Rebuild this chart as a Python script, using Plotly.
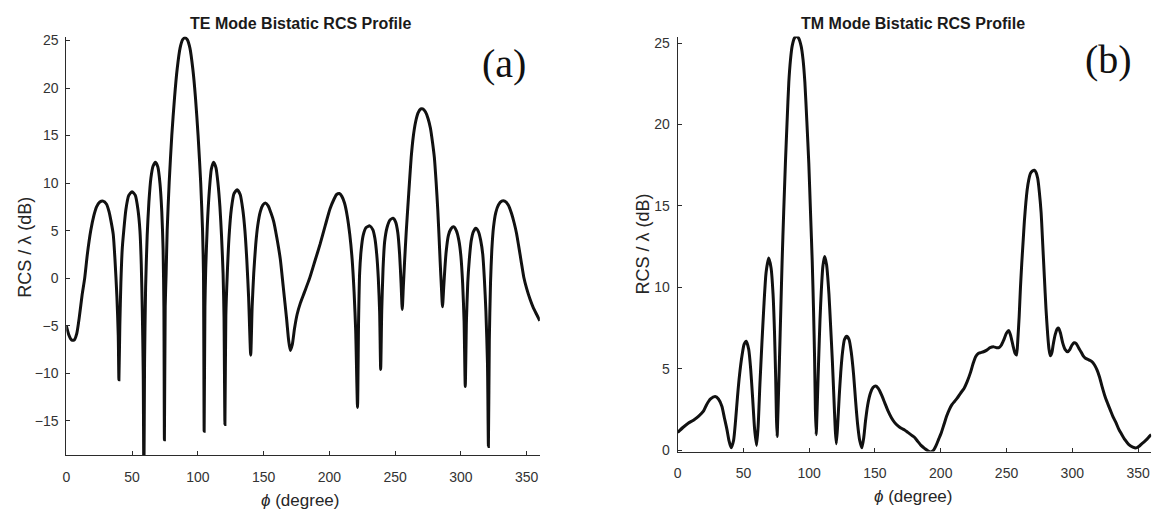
import plotly.graph_objects as go

# ---------------- data ----------------
te_phi = [0, 2, 4, 6, 8, 10, 12, 14, 16, 18.6, 21, 23, 25.5, 28, 30.5, 32.5, 34, 35.7, 37, 38.5, 39.5, 40,
          40.7, 41.5, 42.5, 43.7, 45.3, 47.5, 50, 52.5, 54.5, 56, 57, 57.8, 58.5, 59,
          59.5, 60.3, 61.5, 62.8, 64.3, 66, 67.8, 69.6, 71.2, 72.6, 73.6, 74.2, 74.6,
          75.2, 75.9, 76.7, 78.2, 80.2, 82.3, 84.3, 86.5, 88.5, 90.2, 92, 94, 96.2, 98.2, 100.2, 102.2, 103.6, 104.3, 104.8,
          105.4, 106, 107.2, 108.8, 110.3, 112, 113.8, 115.3, 116.8, 118, 119.2, 119.9, 120.6,
          121.3, 122.4, 123.8, 125.5, 127.5, 129.9, 132.2, 134.2, 135.8, 137.2, 138.6, 140.2,
          141.3, 142.5, 144, 145.5, 147.5, 149.5, 151.3, 153.5, 155.5, 157.6, 160, 162.7, 165, 167.5, 169, 170.3,
          171.8, 173.5, 175.5, 178, 181, 185, 189, 193, 197, 200.5, 203.5, 205.5, 207.6, 209.5, 211.5, 213.5, 215.5,
          217.3, 218.8, 220, 221.4,
          222.2, 223, 224.2, 225.7, 227.8, 230.7, 233, 234.6, 236, 237.2, 238.2, 239,
          239.8, 240.8, 242, 243.8, 246, 248.4, 250.4, 252, 253.4, 254.5, 255.4,
          256.2, 257.2, 258.4, 259.7, 261, 262.2, 263.7, 265.5, 267.5, 269.5, 271, 273, 275, 276.8, 278.4, 279.8,
          281.2, 282.4, 283.4, 284.3, 285.2, 286,
          286.9, 287.8, 288.8, 290.5, 292.5, 294.5, 296.5, 298.4, 300, 301.3, 302.4, 303.3,
          304.2, 305.2, 306.4, 307.8, 309.5, 311.3, 313.3, 315, 316.6, 317.8, 319, 320.2, 320.9,
          321.6, 322.5, 323.5, 324.8, 326.5, 328.5, 331, 333.3, 336, 338.5, 340.5, 342.3, 344, 346, 347.8,
          350, 352.5, 355, 357.5, 360]
te_rcs = [-5.0, -6.0, -6.5, -6.5, -5.8, -4.0, -1.8, 0.0, 2.5, 5.0, 6.6, 7.5, 8.0, 8.1, 7.8, 7.0, 6.0, 4.6, 2.0, -2.0, -6.0, -10.7,
          -5.0, -0.5, 3.0, 5.0, 7.2, 8.7, 9.1, 8.7, 7.2, 5.0, 1.5, -3.5, -10.0, -22.0,
          -9.0, -1.0, 4.5, 8.0, 10.5, 11.8, 12.2, 11.7, 10.0, 7.0, 3.0, -3.0, -17.0,
          -3.0, 0.5, 5.0, 10.0, 15.0, 19.0, 22.0, 24.2, 25.1, 25.3, 25.1, 24.2, 22.0, 19.0, 15.0, 10.0, 5.0, 0.5, -16.1,
          -3.0, 1.0, 5.5, 9.3, 11.5, 12.2, 11.6, 10.0, 7.5, 4.5, 0.5, -4.0, -15.4,
          -4.0, 0.5, 4.5, 7.3, 8.9, 9.3, 8.8, 7.2, 5.0, 2.0, -2.0, -8.1,
          -3.0, 0.5, 3.5, 5.5, 7.0, 7.7, 7.9, 7.6, 6.9, 6.0, 4.3, 2.0, -1.0, -4.3, -6.5, -7.6,
          -7.0, -5.3, -3.8, -2.6, -1.5, 0.0, 1.8, 3.6, 5.6, 7.3, 8.3, 8.8, 8.9, 8.6, 7.9, 6.6, 4.6,
          2.0, -1.5, -5.5, -13.6,
          -4.5, 0.5, 3.0, 4.5, 5.3, 5.5, 5.1, 4.2, 2.5, 0.0, -3.5, -9.6,
          -3.5, 1.0, 3.8, 5.3, 6.1, 6.3, 5.9, 4.8, 2.5, -0.5, -3.3,
          -1.0, 1.8, 4.8, 7.6, 10.3, 12.7, 14.8, 16.4, 17.4, 17.8, 17.8, 17.5, 16.8, 15.8, 14.3, 12.7,
          10.0, 7.2, 4.3, 1.5, -1.0, -3.0,
          -1.0, 1.0, 2.8, 4.5, 5.2, 5.4, 5.0, 4.0, 2.3, -0.5, -4.5, -11.4,
          -4.5, -0.5, 2.0, 3.9, 4.9, 5.25, 4.9, 4.0, 2.5, 0.0, -3.5, -9.0, -17.7,
          -6.5, -0.5, 3.0, 5.4, 6.9, 7.7, 8.1, 8.1, 7.7, 6.8, 5.8, 4.7, 3.3, 1.6, 0.1,
          -1.1, -2.2, -3.1, -3.8, -4.5]

tm_phi = [0, 4, 8, 12, 16, 19.6, 22, 25, 28.5, 31, 33.6, 35.5, 37.4, 39, 40.7,
          42.5, 44, 45.5, 47, 48.9, 50.5, 52.2, 54, 55.5, 57, 58.5, 60,
          61.2, 62.5, 64, 65.5, 67.2, 69.2, 71, 72.5, 73.6, 74.5, 75.1, 75.6,
          76.3, 77.4, 78.4, 79.4, 80.6, 81.9, 83.2, 84.5, 85.8, 87, 88.7, 90.3, 92, 93.9, 95.3, 96.7, 98.2, 99.7,
          101, 102.3, 103.3, 104.1, 104.7, 105.3,
          106, 107.2, 108.2, 109.2, 110.4, 111.7, 113.2, 115, 116.3, 117.6, 118.8, 119.8, 120.6,
          121.6, 122.8, 124, 125.3, 126.8, 128.5, 130.3, 132, 133.8, 135.3, 136.8, 138.4, 140,
          141.5, 142.8, 144.5, 146.5, 148.5, 150.6, 152.5, 155, 157.5, 160, 162.5, 165, 167.5, 170, 172.5, 175,
          177.5, 180, 182.5, 185, 188, 190.5, 192.5, 194.5, 196.5, 198.5, 200.5, 202.5, 204.5, 206.5, 208.5,
          210.5, 212.5, 215, 217.7, 220, 222.7, 224.5, 226.5, 228.5, 230.5, 232.5, 235, 237.5, 240.4, 242.5,
          244.2, 246, 248, 250, 251.8, 253.3, 255, 256.5, 257.6,
          258.6, 259.6, 260.6, 261.6, 262.6, 263.6, 264.7, 265.7, 266.9, 268.2, 269.7, 271.2, 272.5, 273.7,
          274.9, 276.3, 277.5, 278.8, 280, 281.3, 282.3, 283.3,
          284.5, 285.5, 287, 288.5, 289.6, 291, 292.7, 294.5, 296.5, 298.2, 299.7, 301.3, 303, 304.8, 306.6,
          308.3, 310, 312.5, 314.9, 316.8, 318.7, 320.7, 322.5, 324.9, 327, 329, 331, 333.2, 335.3, 337.4,
          340, 343, 346, 348.6, 350.8, 352.8, 355, 357, 359.2, 360]
tm_rcs = [1.1, 1.4, 1.66, 1.85, 2.1, 2.4, 2.8, 3.15, 3.3, 3.15, 2.7, 2.0, 1.3, 0.6, 0.15,
          0.6, 1.8, 3.3, 4.6, 5.8, 6.5, 6.7, 6.2, 5.0, 3.2, 1.3, 0.3,
          1.5, 4.0, 6.5, 8.8, 10.9, 11.8, 11.2, 9.6, 7.3, 4.5, 2.0, 0.85,
          2.5, 5.6, 8.6, 11.6, 14.6, 17.6, 20.2, 22.6, 24.0, 24.8, 25.3, 25.45, 25.3, 24.8, 24.0, 22.6, 20.2, 17.6,
          14.6, 11.6, 8.6, 5.6, 2.5, 0.95,
          2.5, 5.6, 8.0, 9.8, 11.3, 11.9, 11.4, 9.6, 7.6, 5.5, 3.2, 1.3, 0.4,
          1.5, 3.3, 4.8, 6.0, 6.8, 7.0, 6.8, 6.0, 4.6, 3.0, 1.6, 0.6, 0.15,
          0.8, 1.8, 2.8, 3.5, 3.85, 3.95, 3.8, 3.4, 2.9, 2.4, 2.0, 1.7, 1.5, 1.35, 1.25, 1.1,
          0.95, 0.8, 0.55, 0.3, 0.1, -0.05, -0.1, 0.0, 0.3, 0.7, 1.1, 1.6, 2.1, 2.5, 2.8,
          3.0, 3.2, 3.5, 3.8, 4.2, 4.8, 5.3, 5.75, 5.95, 6.0, 6.05, 6.15, 6.3, 6.35, 6.3,
          6.3, 6.45, 6.8, 7.2, 7.35, 7.0, 6.4, 5.95, 5.85,
          6.8, 8.2, 10.0, 11.5, 12.8, 14.1, 15.2, 16.0, 16.6, 17.0, 17.15, 17.2, 17.05, 16.7,
          15.9, 14.6, 12.7, 10.6, 8.7, 7.1, 6.2, 5.8,
          6.0, 6.5, 7.1, 7.45, 7.5, 7.2, 6.6, 6.2, 6.05, 6.2, 6.45, 6.6, 6.55, 6.3, 6.05,
          5.8, 5.65, 5.55, 5.45, 5.25, 4.95, 4.5, 3.95, 3.3, 2.85, 2.45, 2.05, 1.7, 1.3, 1.0,
          0.65, 0.35, 0.2, 0.15, 0.25, 0.4, 0.55, 0.7, 0.9, 0.95]

x_ticks = [0, 50, 100, 150, 200, 250, 300, 350]
te_yticks = [-15, -10, -5, 0, 5, 10, 15, 20, 25]
tm_yticks = [0, 5, 10, 15, 20, 25]

titles = ["TE Mode Bistatic RCS Profile", "TM Mode Bistatic RCS Profile"]
panel_tags = ["(a)", "(b)"]
y_title = "RCS / λ (dB)"
x_title = "<i>ϕ</i> (degree)"

# ---------------- layout helpers ----------------
W, H = 1156, 519
def px(x):
    return x / W
def py(y):
    return 1 - y / H

line_col = "#111111"
axis_col = "#2b2b2b"
font_fam = "Liberation Sans, Arial, Helvetica, sans-serif"

fig = go.Figure()
fig.add_trace(go.Scatter(x=te_phi, y=te_rcs, mode="lines", xaxis="x", yaxis="y",
                         line=dict(color=line_col, width=3, shape="spline", smoothing=0.6),
                         showlegend=False, hoverinfo="skip"))
fig.add_trace(go.Scatter(x=tm_phi, y=tm_rcs, mode="lines", xaxis="x2", yaxis="y2",
                         line=dict(color=line_col, width=3, shape="spline", smoothing=0.6),
                         showlegend=False, hoverinfo="skip"))

common_axis = dict(showline=True, linecolor=axis_col, linewidth=1, showgrid=False, zeroline=False,
                   ticks="inside", ticklen=4, tickcolor=axis_col, tickwidth=1,
                   tickfont=dict(family=font_fam, size=14, color="#333333"), mirror=False)
xtick = dict(ticklabelstandoff=9, **common_axis)
ytick = dict(ticklabelstandoff=4, **common_axis)

fig.update_layout(
    width=W, height=H, margin=dict(l=0, r=0, t=0, b=0),
    paper_bgcolor="white", plot_bgcolor="white",
    xaxis=dict(domain=[px(62.5), px(537.7)], range=[0, 360], tickvals=x_ticks, anchor="y", **xtick),
    yaxis=dict(domain=[py(461), py(33.3)], range=[-18.63, 25.41], tickvals=te_yticks, anchor="x", **ytick),
    xaxis2=dict(domain=[px(676), px(1151.2)], range=[0, 360], tickvals=x_ticks, anchor="y2", **xtick),
    yaxis2=dict(domain=[py(457.3), py(33.3)], range=[-0.08, 25.4], tickvals=tm_yticks, anchor="x2", **ytick),
)

ann = []
# titles
for t, cx in zip(titles, [298, 912]):
    ann.append(dict(text="<b>" + t + "</b>", x=px(cx), y=py(20), xref="paper", yref="paper",
                    showarrow=False, xanchor="center", yanchor="middle",
                    font=dict(family=font_fam, size=16, color="#1a1a1a")))
# panel tags
for t, cx, cy in zip(panel_tags, [502, 1108], [61, 57]):
    ann.append(dict(text=t, x=px(cx), y=py(cy), xref="paper", yref="paper",
                    showarrow=False, xanchor="center", yanchor="middle",
                    font=dict(family="Liberation Serif, Times New Roman, serif", size=40, color="#111111")))
# y titles
for cx, cy in zip([21, 641], [248, 245]):
    ann.append(dict(text=y_title, x=px(cx), y=py(cy), xref="paper", yref="paper", textangle=-90,
                    showarrow=False, xanchor="center", yanchor="middle",
                    font=dict(family=font_fam, size=18, color="#262626")))
# x titles
for cx, cy in zip([297, 912], [507, 503]):
    ann.append(dict(text=x_title, x=px(cx), y=py(cy), xref="paper", yref="paper",
                    showarrow=False, xanchor="center", yanchor="middle",
                    font=dict(family=font_fam, size=17, color="#262626")))
fig.update_layout(annotations=ann)

fig.write_html("out.html", config={"displayModeBar": False},
               post_script="document.body.style.margin='0';document.body.style.overflow='hidden';")
